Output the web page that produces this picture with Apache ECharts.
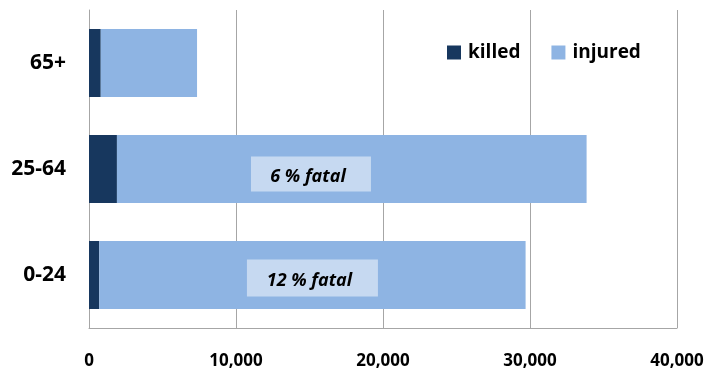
<!DOCTYPE html>
<html>
<head>
<meta charset="utf-8">
<script src="https://cdn.jsdelivr.net/npm/echarts@6/dist/echarts.min.js"></script>
<style>
  html, body { margin: 0; padding: 0; background: #fff; }
  #chart { width: 710px; height: 371px; }
</style>
</head>
<body>
<div id="chart"></div>
<script>
var ageGroups = ['0-24', '25-64', '65+'];
var killed = [700, 1900, 800];
var injured = [29000, 31950, 6550];
var xTicks = { min: 0, max: 40000, step: 10000 };
// annotation notes: [category, x value, text]
var notes = [
    ['25-64', 15100, '6 % fatal'],
    ['0-24', 15200, '12 % fatal']
];

(function () {
    var myChart = echarts.init(document.getElementById('chart'));
    var font = '"Open Sans", sans-serif';

    option = {
        animation: false,
        grid: { left: 89, right: 33, top: 10, bottom: 43 },
        legend: {
            left: 442,
            top: 38,
            itemWidth: 14,
            itemHeight: 14,
            itemGap: 31,
            icon: 'rect',
            textStyle: { fontFamily: font, fontWeight: 'bold', fontSize: 19, color: '#000', padding: [0, 0, 0, 2] },
            data: ['killed', 'injured']
        },
        xAxis: {
            type: 'value',
            min: xTicks.min,
            max: xTicks.max,
            interval: xTicks.step,
            axisLine: { show: true, lineStyle: { color: '#a6a6a6', width: 1 } },
            axisTick: { show: false },
            splitLine: { lineStyle: { color: '#a6a6a6', width: 1 } },
            axisLabel: {
                margin: 25,
                fontFamily: font,
                fontWeight: 'bold',
                fontSize: 17,
                color: '#000',
                formatter: function (v) { return v.toLocaleString('en-US'); }
            }
        },
        yAxis: {
            type: 'category',
            data: ageGroups,
            axisLine: { show: true, lineStyle: { color: '#a6a6a6', width: 1 } },
            axisTick: { show: false },
            axisLabel: {
                margin: 23,
                fontFamily: font,
                fontWeight: 'bold',
                fontSize: 21,
                color: '#000'
            }
        },
        series: [
            {
                name: 'killed',
                type: 'bar',
                stack: 'total',
                barWidth: 68,
                itemStyle: { color: '#17375e' },
                data: killed
            },
            {
                name: 'injured',
                type: 'bar',
                stack: 'total',
                barWidth: 68,
                itemStyle: { color: '#8eb4e3' },
                data: injured,
                markPoint: {
                    symbol: 'rect',
                    silent: true,
                    data: [
                        {
                            coord: [notes[0][1], notes[0][0]],
                            symbolSize: [120, 35],
                            symbolOffset: [0, 5],
                            value: notes[0][2]
                        },
                        {
                            coord: [notes[1][1], notes[1][0]],
                            symbolSize: [131, 37],
                            symbolOffset: [0, 3],
                            value: notes[1][2]
                        }
                    ],
                    itemStyle: { color: '#c6d9f1' },
                    label: {
                        show: true,
                        position: 'inside',
                        offset: [-3, 3],
                        formatter: '{c}',
                        fontFamily: font,
                        fontStyle: 'italic',
                        fontWeight: 'bold',
                        fontSize: 18,
                        color: '#000'
                    }
                }
            }
        ]
    };

    myChart.setOption(option);
})();
</script>
</body>
</html>
